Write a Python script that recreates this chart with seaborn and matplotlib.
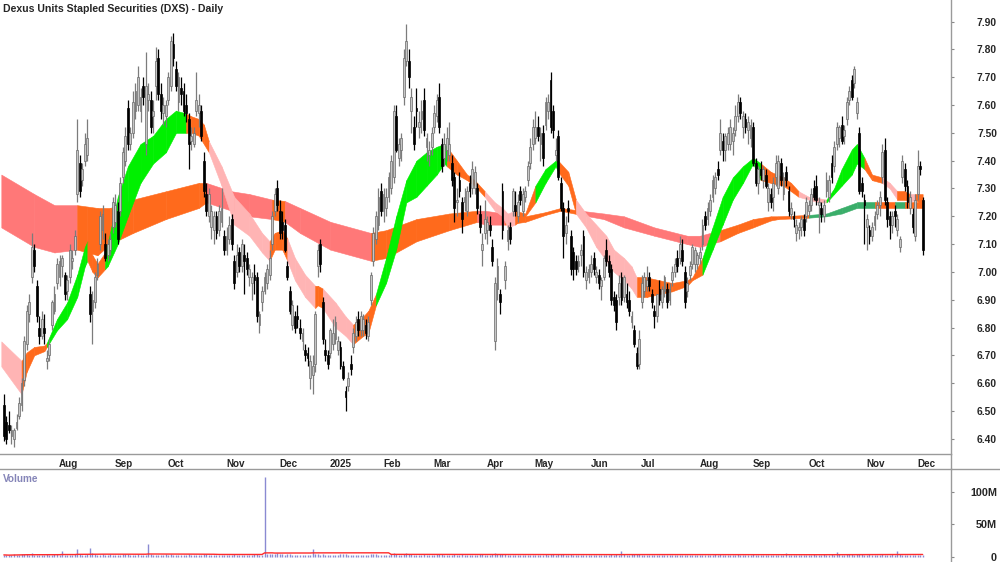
import numpy as np
import pandas as pd
import matplotlib
matplotlib.use("Agg")
import matplotlib.pyplot as plt
import matplotlib.transforms as mtransforms
from matplotlib.lines import Line2D
import seaborn as sns

sns.set_style("white")
plt.rcParams['font.family'] = ['Liberation Sans', 'DejaVu Sans']

title = "Dexus Units Stapled Securities (DXS) - Daily"
start_date = "2024-07-03"
end_date = "2025-12-04"
holidays = ['2024-12-25', '2024-12-26', '2025-01-01', '2025-01-27',
            '2025-04-18', '2025-04-21', '2025-04-25', '2025-06-09']

opens = [
    6.52,6.46,6.45,6.41,6.40,6.44,6.48,6.52,6.61,6.74,
    6.85,6.98,7.08,6.95,6.80,6.77,6.80,6.68,6.70,6.81,
    6.86,6.96,6.98,7.02,6.99,6.93,6.98,7.04,7.08,7.28,
    7.39,7.33,7.40,7.42,6.92,6.86,6.89,6.99,7.10,7.15,
    7.10,7.06,7.08,7.16,7.18,7.22,7.22,7.34,7.40,7.59,
    7.46,7.50,7.58,7.60,7.58,7.67,7.46,7.62,7.62,7.56,
    7.67,7.77,7.64,7.57,7.56,7.62,7.67,7.82,7.73,7.61,
    7.66,7.65,7.60,7.55,7.47,7.46,7.58,7.57,7.58,7.40,
    7.28,7.20,7.16,7.15,7.20,7.15,7.18,7.13,7.08,7.12,
    7.19,7.04,7.00,7.07,7.02,7.06,7.05,6.98,6.96,6.99,
    6.98,6.81,6.89,6.93,6.96,6.99,7.10,7.22,7.30,7.22,
    7.18,7.17,7.02,6.93,6.81,6.84,6.84,6.80,6.75,6.72,
    6.71,6.62,6.63,6.67,7.02,7.10,6.89,6.72,6.70,6.71,
    6.74,6.76,6.72,6.73,6.66,6.57,6.59,6.67,6.73,6.77,
    6.83,6.79,6.79,6.81,6.77,6.90,7.04,7.12,7.17,7.29,
    7.22,7.23,7.27,7.30,7.34,7.56,7.41,7.44,7.63,7.76,
    7.76,7.58,7.52,7.59,7.52,7.55,7.62,7.45,7.42,7.45,
    7.52,7.56,7.63,7.46,7.41,7.44,7.42,7.39,7.34,7.25,
    7.33,7.25,7.25,7.22,7.32,7.30,7.30,7.30,7.21,7.08,
    7.14,7.15,7.17,7.09,6.75,6.94,6.92,7.29,6.97,7.11,
    7.16,7.22,7.24,7.20,7.29,7.22,7.27,7.33,7.39,7.46,
    7.48,7.52,7.46,7.50,7.53,7.58,7.69,7.58,7.42,7.49,
    7.32,7.23,7.14,7.23,7.13,7.07,7.04,7.02,7.06,7.13,
    6.97,6.98,7.00,7.05,6.98,6.99,6.95,6.98,7.08,7.04,
    7.01,6.91,6.90,6.91,6.98,6.91,6.92,6.90,6.82,6.79,
    6.71,6.67,6.89,6.93,6.95,6.98,6.92,6.86,6.84,6.94,
    6.89,6.93,6.94,6.90,6.97,7.00,7.05,7.05,7.08,7.00,
    6.93,6.99,7.03,7.03,7.03,7.05,7.10,7.20,7.19,7.22,
    7.27,7.30,7.37,7.44,7.47,7.44,7.46,7.46,7.47,7.51,
    7.56,7.61,7.52,7.55,7.51,7.48,7.52,7.39,7.32,7.37,
    7.33,7.35,7.25,7.28,7.27,7.34,7.30,7.39,7.28,7.36,
    7.29,7.21,7.20,7.14,7.15,7.16,7.19,7.20,7.22,7.24,
    7.30,7.31,7.24,7.23,7.20,7.29,7.27,7.39,7.38,7.46,
    7.48,7.53,7.49,7.55,7.62,7.69,7.68,7.57,7.50,7.32,
    7.26,7.16,7.15,7.13,7.17,7.21,7.24,7.34,7.44,7.25,
    7.20,7.17,7.22,7.15,7.09,7.34,7.37,7.31,7.23,7.21,
    7.13,7.28,7.38,7.26]

highs = [
    6.56,6.48,6.50,6.45,6.44,6.49,6.55,6.62,6.77,6.88,
    6.92,7.14,7.10,6.97,6.84,6.86,6.85,6.72,6.76,6.90,
    6.95,7.05,7.06,7.06,7.00,6.99,7.10,7.08,7.15,7.55,
    7.42,7.39,7.50,7.55,6.95,6.93,7.00,7.05,7.22,7.24,
    7.14,7.12,7.14,7.27,7.28,7.25,7.34,7.45,7.52,7.62,
    7.52,7.65,7.68,7.74,7.66,7.70,7.79,7.68,7.65,7.62,
    7.81,7.80,7.68,7.63,7.62,7.72,7.85,7.86,7.76,7.72,
    7.70,7.68,7.64,7.57,7.52,7.52,7.72,7.64,7.60,7.43,
    7.32,7.30,7.24,7.22,7.22,7.24,7.30,7.15,7.16,7.20,
    7.21,7.06,7.10,7.09,7.12,7.10,7.07,7.03,7.00,7.03,
    7.00,6.86,6.95,7.00,7.03,7.08,7.22,7.30,7.33,7.26,
    7.22,7.19,7.04,6.95,6.90,6.86,6.88,6.83,6.80,6.74,
    6.73,6.70,6.70,6.86,7.10,7.12,6.91,6.76,6.72,6.80,
    6.83,6.84,6.77,6.75,6.68,6.59,6.64,6.70,6.80,6.84,
    6.86,6.86,6.85,6.83,6.84,7.00,7.16,7.22,7.30,7.32,
    7.30,7.30,7.36,7.42,7.60,7.60,7.48,7.50,7.80,7.89,
    7.80,7.66,7.56,7.66,7.58,7.62,7.66,7.50,7.47,7.52,
    7.60,7.64,7.68,7.48,7.50,7.52,7.54,7.42,7.36,7.30,
    7.36,7.27,7.30,7.31,7.35,7.40,7.38,7.32,7.24,7.14,
    7.26,7.20,7.20,7.12,6.98,7.05,6.94,7.32,7.04,7.17,
    7.18,7.30,7.29,7.28,7.31,7.30,7.31,7.40,7.48,7.55,
    7.58,7.56,7.52,7.53,7.63,7.64,7.72,7.60,7.48,7.51,
    7.34,7.25,7.20,7.26,7.15,7.09,7.06,7.06,7.10,7.15,
    7.02,7.03,7.06,7.07,7.02,7.01,6.98,7.06,7.12,7.06,
    7.03,6.93,6.92,6.99,7.00,6.99,6.96,6.93,6.86,6.81,
    6.73,6.79,6.99,7.00,7.02,7.00,6.94,6.88,6.92,6.97,
    6.95,6.99,6.96,6.96,7.02,7.05,7.08,7.13,7.12,7.02,
    6.98,7.04,7.10,7.09,7.07,7.09,7.19,7.22,7.25,7.28,
    7.35,7.36,7.40,7.55,7.50,7.50,7.52,7.55,7.52,7.60,
    7.64,7.63,7.58,7.57,7.56,7.55,7.54,7.41,7.38,7.40,
    7.38,7.37,7.32,7.30,7.34,7.42,7.42,7.41,7.36,7.38,
    7.31,7.25,7.22,7.19,7.18,7.20,7.21,7.27,7.26,7.30,
    7.33,7.35,7.27,7.25,7.26,7.36,7.35,7.42,7.47,7.54,
    7.53,7.56,7.53,7.63,7.67,7.71,7.74,7.63,7.52,7.34,
    7.28,7.21,7.17,7.18,7.22,7.26,7.29,7.46,7.48,7.27,
    7.22,7.22,7.24,7.21,7.13,7.42,7.39,7.33,7.29,7.23,
    7.28,7.44,7.40,7.27]

lows = [
    6.39,6.38,6.42,6.38,6.37,6.43,6.47,6.50,6.59,6.72,
    6.82,6.96,7.00,6.82,6.74,6.76,6.74,6.65,6.68,6.79,
    6.85,6.94,6.95,6.98,6.90,6.90,6.96,7.01,7.06,7.25,
    7.27,7.31,7.38,7.40,6.82,6.74,6.87,6.97,7.08,7.12,
    7.04,7.04,7.06,7.14,7.16,7.10,7.20,7.32,7.38,7.44,
    7.44,7.48,7.55,7.58,7.54,7.60,7.42,7.58,7.50,7.50,
    7.62,7.62,7.55,7.53,7.52,7.60,7.65,7.74,7.65,7.58,
    7.60,7.56,7.54,7.37,7.44,7.45,7.56,7.52,7.47,7.27,
    7.20,7.18,7.12,7.10,7.12,7.13,7.16,7.06,7.06,7.10,
    7.08,6.94,6.98,7.00,7.00,6.92,6.99,6.95,6.90,6.92,
    6.82,6.78,6.86,6.92,6.94,6.97,7.08,7.20,7.22,7.12,
    7.12,7.07,6.97,6.85,6.79,6.78,6.80,6.76,6.72,6.68,
    6.66,6.58,6.56,6.64,6.98,7.00,6.74,6.68,6.65,6.69,
    6.72,6.74,6.70,6.65,6.61,6.50,6.57,6.63,6.71,6.75,
    6.77,6.77,6.77,6.76,6.75,6.88,7.02,7.10,7.15,7.20,
    7.18,7.20,7.25,7.28,7.32,7.43,7.38,7.40,7.60,7.74,
    7.66,7.50,7.44,7.52,7.48,7.50,7.49,7.40,7.38,7.42,
    7.50,7.54,7.50,7.36,7.38,7.40,7.40,7.31,7.18,7.20,
    7.27,7.14,7.22,7.20,7.27,7.28,7.28,7.21,7.14,7.02,
    7.12,7.10,7.13,7.02,6.72,6.90,6.85,7.12,6.94,7.08,
    7.10,7.20,7.20,7.18,7.24,7.20,7.25,7.31,7.37,7.44,
    7.46,7.47,7.40,7.38,7.51,7.55,7.50,7.48,7.40,7.33,
    7.22,7.05,7.10,7.18,6.99,6.97,6.99,7.00,7.02,6.98,
    6.94,6.96,6.98,6.99,6.96,6.94,6.90,6.97,7.02,6.98,
    6.88,6.86,6.79,6.88,6.88,6.89,6.87,6.84,6.80,6.73,
    6.65,6.65,6.87,6.91,6.93,6.93,6.87,6.80,6.82,6.88,
    6.87,6.91,6.87,6.88,6.95,6.98,7.00,7.03,7.02,6.87,
    6.91,6.97,7.01,7.00,7.01,7.03,7.08,7.15,7.17,7.20,
    7.25,7.28,7.33,7.42,7.40,7.40,7.44,7.44,7.42,7.49,
    7.54,7.55,7.48,7.50,7.46,7.45,7.38,7.31,7.28,7.33,
    7.30,7.30,7.22,7.23,7.22,7.31,7.28,7.31,7.26,7.31,
    7.20,7.19,7.16,7.11,7.12,7.13,7.13,7.18,7.20,7.22,
    7.26,7.24,7.14,7.18,7.18,7.27,7.25,7.32,7.36,7.44,
    7.45,7.46,7.46,7.53,7.60,7.62,7.66,7.55,7.28,7.27,
    7.10,7.08,7.10,7.11,7.15,7.19,7.20,7.32,7.24,7.16,
    7.12,7.14,7.16,7.13,7.07,7.32,7.29,7.23,7.21,7.14,
    7.11,7.26,7.35,7.06]

closes = [
    6.41,6.40,6.43,6.43,6.43,6.46,6.53,6.60,6.75,6.86,
    6.89,7.09,7.02,6.84,6.77,6.83,6.78,6.69,6.74,6.89,
    6.92,7.03,7.04,7.05,6.92,6.97,7.08,7.05,7.13,7.44,
    7.29,7.37,7.46,7.48,6.85,6.90,6.98,7.03,7.20,7.21,
    7.05,7.10,7.12,7.25,7.24,7.12,7.32,7.43,7.49,7.46,
    7.50,7.61,7.65,7.70,7.63,7.63,7.67,7.64,7.52,7.58,
    7.76,7.64,7.58,7.60,7.60,7.70,7.83,7.77,7.67,7.70,
    7.64,7.58,7.57,7.46,7.49,7.50,7.62,7.60,7.49,7.29,
    7.22,7.28,7.22,7.20,7.14,7.22,7.23,7.08,7.13,7.17,
    7.10,6.96,7.06,7.02,7.10,7.04,7.01,7.01,6.98,6.97,
    6.84,6.85,6.93,6.98,7.01,7.05,7.20,7.28,7.24,7.14,
    7.15,7.08,6.98,6.86,6.88,6.80,6.83,6.78,6.78,6.70,
    6.69,6.68,6.66,6.85,7.08,7.03,6.76,6.70,6.67,6.79,
    6.78,6.82,6.75,6.66,6.62,6.55,6.62,6.65,6.78,6.82,
    6.79,6.84,6.83,6.78,6.82,6.99,7.14,7.20,7.27,7.22,
    7.28,7.27,7.34,7.40,7.58,7.44,7.46,7.48,7.77,7.83,
    7.70,7.63,7.46,7.58,7.54,7.58,7.51,7.48,7.44,7.50,
    7.57,7.62,7.52,7.38,7.46,7.48,7.46,7.33,7.23,7.26,
    7.29,7.19,7.27,7.29,7.29,7.37,7.36,7.23,7.16,7.10,
    7.19,7.18,7.15,7.04,6.96,7.02,6.89,7.15,7.02,7.15,
    7.12,7.29,7.22,7.25,7.26,7.28,7.29,7.38,7.45,7.52,
    7.52,7.49,7.50,7.41,7.61,7.61,7.52,7.51,7.44,7.34,
    7.23,7.13,7.17,7.22,7.01,7.01,7.01,7.04,7.08,7.00,
    7.00,7.01,7.03,7.01,7.00,6.96,6.97,7.05,7.04,7.00,
    6.90,6.88,6.82,6.96,6.90,6.98,6.89,6.86,6.84,6.74,
    6.66,6.76,6.96,6.98,6.97,6.95,6.89,6.84,6.92,6.90,
    6.94,6.98,6.89,6.94,7.00,7.03,7.02,7.10,7.04,6.89,
    6.96,7.02,7.09,7.08,7.06,7.07,7.17,7.17,7.23,7.26,
    7.33,7.34,7.35,7.50,7.44,7.49,7.50,7.52,7.50,7.56,
    7.61,7.57,7.56,7.52,7.54,7.53,7.39,7.32,7.37,7.35,
    7.37,7.31,7.30,7.25,7.32,7.39,7.40,7.33,7.34,7.33,
    7.22,7.23,7.19,7.17,7.16,7.19,7.15,7.25,7.24,7.28,
    7.27,7.26,7.25,7.21,7.24,7.33,7.33,7.34,7.45,7.52,
    7.52,7.47,7.51,7.61,7.65,7.63,7.73,7.61,7.29,7.29,
    7.24,7.19,7.13,7.16,7.20,7.24,7.27,7.43,7.26,7.19,
    7.17,7.20,7.20,7.19,7.12,7.40,7.31,7.25,7.27,7.16,
    7.26,7.38,7.37,7.08]

# daily volume, millions of units
volumes = [
    3.2,2.8,2.6,3.4,3.9,2.9,3.3,4.2,4.6,3.9,3.5,5.4,3.7,3.4,3.0,2.8,3.2,3.9,3.0,3.5,
    4.1,4.5,3.6,9.0,3.8,3.2,3.5,2.9,4.1,13.0,5.3,3.8,3.4,4.3,14.0,6.1,4.4,3.8,3.5,4.0,
    3.2,3.6,4.1,3.1,2.9,3.7,3.4,3.9,4.5,4.1,3.5,3.1,3.6,4.2,3.3,3.0,3.8,19.5,4.6,3.4,
    3.7,3.3,3.0,3.5,3.9,3.0,4.1,3.6,3.2,2.8,3.1,3.4,3.8,4.4,3.5,3.0,3.3,3.6,3.8,5.2,
    4.6,3.8,3.2,2.9,3.5,3.2,2.9,3.8,3.4,3.0,3.5,4.3,3.3,3.1,2.8,3.2,3.7,3.2,3.6,4.0,
    5.0,3.8,3.4,123.0,4.8,5.2,4.4,4.3,6.0,4.6,4.1,3.6,3.9,4.3,3.5,3.2,3.8,3.5,3.1,3.4,
    2.9,3.3,13.0,4.7,4.2,3.6,4.5,3.8,3.4,3.2,3.5,3.7,3.2,4.1,4.4,4.9,3.8,3.5,3.2,3.6,
    3.3,3.1,3.5,3.0,3.7,4.4,4.6,4.0,3.5,3.8,3.4,3.2,3.8,4.3,5.5,4.8,3.8,3.6,5.0,5.6,
    4.5,4.0,3.7,3.5,3.2,3.6,3.9,3.4,3.1,3.5,3.8,4.1,4.4,4.0,3.5,3.2,3.6,3.8,4.6,3.5,
    3.4,3.9,3.2,2.9,3.3,3.1,3.5,3.8,4.1,4.4,3.5,3.2,3.6,4.6,5.9,4.9,4.0,5.3,4.1,3.5,
    3.3,3.6,3.1,3.4,2.9,3.2,2.9,3.5,3.8,3.7,3.4,3.2,3.5,3.8,4.0,3.6,4.4,4.1,3.8,4.3,
    4.0,4.5,3.6,3.4,3.9,3.5,3.2,3.0,3.4,3.7,3.2,2.9,3.3,3.1,3.5,3.2,2.9,3.5,3.3,3.8,
    4.0,3.6,4.1,3.5,9.5,4.4,3.8,3.6,4.1,4.3,4.7,4.1,3.7,3.5,3.2,3.5,3.2,3.4,3.0,3.3,
    3.1,3.4,3.6,3.2,2.9,3.3,3.1,3.5,3.2,3.7,3.4,3.0,3.5,3.2,2.9,3.2,3.5,3.3,3.8,3.4,
    3.6,3.9,3.4,4.3,3.8,3.5,3.2,3.6,3.8,3.4,4.1,3.5,3.2,3.5,3.1,3.6,4.1,3.7,3.2,3.4,
    3.0,3.3,3.6,3.2,3.5,3.2,3.6,3.8,3.4,6.0,3.5,3.2,3.5,3.3,3.0,3.4,3.2,3.6,3.8,3.5,
    4.0,3.5,3.2,3.6,3.9,3.4,3.8,4.2,3.6,7.0,4.0,3.5,3.8,4.1,4.4,3.9,3.6,4.3,4.9,4.2,
    3.8,3.5,4.0,3.6,3.4,3.8,3.5,4.1,3.7,3.3,3.6,3.9,3.5,9.0,4.1,3.8,3.5,3.2,3.6,3.4,
    3.8,3.5,3.2,3.7]

# short-term moving-average ribbon: candle index, top, bottom, state
short_idx = [-1, 7, 9, 12, 16, 17, 21, 25, 29, 32, 33, 35, 37, 40, 41, 45, 49, 54, 59, 64,
             68, 72, 74, 77, 79, 81, 86, 91, 97, 102, 105, 107, 110, 112, 115, 119, 123, 124, 126, 131,
             135, 138, 142, 144, 147, 151, 155, 159, 163, 167, 171, 174, 175, 179, 183, 186, 190, 194, 197, 199,
             202, 206, 210, 214, 218, 219, 223, 226, 230, 234, 238, 241, 245, 248, 250, 254, 259, 264, 270, 272,
             276, 280, 284, 288, 292, 296, 299, 303, 308, 311, 314, 318, 322, 325, 328, 331, 335, 337, 340, 343,
             347, 350, 353, 356, 358, 360, 363]
short_top = [6.75, 6.68, 6.71, 6.73, 6.735, 6.745, 6.83, 6.89, 6.99, 7.09, 7.11, 7.06, 7.03, 7.07, 7.10, 7.27, 7.38, 7.46, 7.49, 7.55,
             7.58, 7.57, 7.56, 7.55, 7.53, 7.47, 7.38, 7.27, 7.21, 7.14, 7.11, 7.14, 7.15, 7.12, 7.05, 6.99, 6.95, 6.95, 6.94, 6.89,
             6.84, 6.81, 6.84, 6.86, 6.92, 7.05, 7.20, 7.33, 7.40, 7.43, 7.45, 7.46, 7.45, 7.40, 7.35, 7.33, 7.29, 7.25, 7.23, 7.21,
             7.22, 7.21, 7.31, 7.37, 7.40, 7.40, 7.36, 7.26, 7.21, 7.17, 7.13, 7.08, 7.05, 7.02, 6.98, 6.98, 6.97, 6.96, 6.97, 6.98,
             7.05, 7.16, 7.27, 7.34, 7.38, 7.41, 7.39, 7.36, 7.34, 7.32, 7.29, 7.27, 7.265, 7.26, 7.30, 7.37, 7.44, 7.46, 7.41, 7.35,
             7.34, 7.32, 7.29, 7.29, 7.28, 7.28, 7.28]
short_bot = [6.66, 6.56, 6.64, 6.70, 6.715, 6.73, 6.79, 6.83, 6.91, 7.02, 7.04, 7.00, 6.98, 7.01, 7.02, 7.10, 7.20, 7.32, 7.39, 7.43,
             7.50, 7.50, 7.50, 7.49, 7.46, 7.43, 7.31, 7.17, 7.13, 7.07, 7.04, 7.08, 7.08, 7.04, 6.97, 6.91, 6.87, 6.88, 6.87, 6.80,
             6.77, 6.74, 6.77, 6.78, 6.88, 6.96, 7.08, 7.25, 7.27, 7.31, 7.35, 7.39, 7.38, 7.35, 7.33, 7.31, 7.27, 7.22, 7.20, 7.16,
             7.17, 7.20, 7.25, 7.32, 7.38, 7.36, 7.31, 7.21, 7.16, 7.09, 7.04, 7.00, 6.97, 6.94, 6.91, 6.91, 6.92, 6.93, 6.95, 6.97,
             6.99, 7.08, 7.17, 7.26, 7.32, 7.39, 7.33, 7.32, 7.31, 7.29, 7.27, 7.26, 7.25, 7.25, 7.28, 7.31, 7.35, 7.39, 7.37, 7.33,
             7.32, 7.30, 7.26, 7.26, 7.25, 7.26, 7.24]
short_state = list("poooogggggoooggggggg"
                   "goooopppppooopppoopp"
                   "poooggggggggoooopppp"
                   "oogggoopppppppoooooo"
                   "ggggggoooopppgggggoop"
                   "poopoo")

# long-term moving-average ribbon
long_idx = [-1, 12, 20, 29, 33, 37, 42, 51, 64, 77, 80, 90, 97, 106, 111, 117, 129, 145, 151, 163,
            176, 187, 190, 198, 206, 214, 220, 228, 237, 245, 257, 270, 275, 283, 290, 296, 303, 306, 318, 325,
            331, 337, 344, 349, 352, 356, 360, 363]
long_top = [7.35, 7.28, 7.24, 7.24, 7.235, 7.23, 7.23, 7.26, 7.29, 7.32, 7.32, 7.29, 7.28, 7.26, 7.255, 7.23, 7.18, 7.14, 7.15, 7.19,
            7.21, 7.22, 7.22, 7.21, 7.20, 7.215, 7.23, 7.22, 7.21, 7.20, 7.16, 7.13, 7.13, 7.15, 7.17, 7.19, 7.20, 7.20, 7.205, 7.21,
            7.23, 7.25, 7.25, 7.25, 7.25, 7.25, 7.25, 7.25]
long_bot = [7.16, 7.09, 7.07, 7.08, 7.07, 7.06, 7.10, 7.14, 7.19, 7.23, 7.25, 7.22, 7.20, 7.19, 7.18, 7.14, 7.08, 7.04, 7.05, 7.11,
            7.15, 7.18, 7.17, 7.17, 7.18, 7.205, 7.22, 7.205, 7.19, 7.16, 7.13, 7.10, 7.09, 7.11, 7.14, 7.16, 7.185, 7.19, 7.195, 7.20,
            7.21, 7.23, 7.23, 7.23, 7.23, 7.23, 7.23, 7.23]
long_state = list("rrrooooooorrrorrrooo"
                  "orroooorrrrrrooooott"
                  "ttootoooo")

# ---------------------------------------------------------------
n = len(closes)
idx = np.arange(n)
dates = pd.bdate_range(start_date, end_date, freq='C', holidays=holidays)[:n]
df = pd.DataFrame({'date': dates, 'open': opens, 'high': highs, 'low': lows,
                   'close': closes, 'volume': volumes, 'i': idx})

W, H = 1000, 562
fig = plt.figure(figsize=(W / 100, H / 100), dpi=100)
ax = fig.add_axes([0, (H - 454) / H, 951 / W, 454 / H])
axv = fig.add_axes([0, 0, 951 / W, (H - 469) / H])

xl = (-1.52, 374.2)

colors_short = {'g': '#00f000', 'o': '#ff6a1c', 'p': '#ffb4b4'}
colors_long = {'r': '#ff7878', 'o': '#ff6a1c', 't': '#3aae6a'}


def ribbon(axis, xs, tops, bots, states, cmap, z):
    for k in range(len(xs) - 1):
        c = cmap[states[k]]
        axis.fill_between([xs[k], xs[k + 1]], [bots[k], bots[k + 1]], [tops[k], tops[k + 1]],
                          facecolor=c, edgecolor=c, lw=0.4, zorder=z)


ribbon(ax, long_idx, long_top, long_bot, long_state, colors_long, 1)
ribbon(ax, short_idx, short_top, short_bot, short_state, colors_short, 2)

o = df['open'].values
c = df['close'].values
up = c >= o
body_lo = np.minimum(o, c)
body_h = np.maximum(np.abs(c - o), 0.005)
ax.vlines(idx, df['low'], df['high'], colors=np.where(up, '#7c7c7c', '#000000'), lw=0.9, zorder=3)
ax.bar(idx, body_h, bottom=body_lo, width=0.72,
       color=np.where(up, '#c6c6c6', '#000000'),
       edgecolor=np.where(up, '#6a6a6a', '#000000'), lw=0.5, zorder=4)

ax.set_xlim(*xl)
ax.set_ylim(6.345, 7.978)

# volume
axv.vlines(idx, 0, df['volume'], colors='#8a8ad2', lw=1.0, zorder=2)
vol_ma = df['volume'].rolling(50, min_periods=1).mean()
sns.lineplot(x=idx, y=vol_ma.values, ax=axv, color='#ff2a2a', lw=1.0, zorder=3)
axv.set_xlim(*xl)
axv.set_ylim(-7.66, 134.8)

# spines
spine_c = '#9a9a9a'
for a in (ax, axv):
    for s in a.spines.values():
        s.set_color(spine_c)
        s.set_linewidth(1.0)
ax.spines['top'].set_visible(False)
ax.spines['left'].set_visible(False)
axv.spines['bottom'].set_visible(False)
axv.spines['left'].set_visible(False)

fig.add_artist(Line2D([951 / W, 1.0], [(H - 469) / H] * 2, color=spine_c, lw=1.0))
fig.add_artist(Line2D([951 / W] * 2, [(H - 469) / H, (H - 454) / H], color=spine_c, lw=1.0))

# price ticks
yt = np.round(np.arange(6.4, 7.91, 0.1), 2)
ax.yaxis.tick_right()
ax.set_yticks(yt)
ax.set_yticklabels([f"{v:.2f}" for v in yt])
ax.tick_params(axis='y', direction='out', length=2.2, width=0.8, color='#888888',
               pad=30.9, labelsize=7.4, labelright=True, labelleft=False)
for t in ax.yaxis.get_major_ticks():
    t.label2.set_horizontalalignment('right')
    t.label2.set_fontweight('bold')

# month ticks
per = df['date'].dt.to_period('M')
starts = df.index[(per != per.shift()).values][1:]
names = ['2025' if df['date'][s].month == 1 else df['date'][s].strftime('%b') for s in starts]
ax.set_xticks(starts)
ax.set_xticklabels(names)
ax.tick_params(axis='x', direction='out', length=2.2, width=0.8, color='#888888',
               pad=1.4, labelsize=7.1)
off = mtransforms.ScaledTranslation(2 / 100, 0, fig.dpi_scale_trans)
for lbl in ax.get_xticklabels():
    lbl.set_horizontalalignment('left')
    lbl.set_fontweight('bold')
    lbl.set_transform(lbl.get_transform() + off)

# volume ticks
axv.yaxis.tick_right()
axv.set_yticks([0, 50, 100])
axv.set_yticklabels(['0', '50M', '100M'])
axv.set_xticks([])
axv.tick_params(axis='y', direction='out', length=2.2, width=0.8, color='#888888',
                pad=30.9, labelsize=7.8, labelright=True, labelleft=False)
for t in axv.yaxis.get_major_ticks():
    t.label2.set_horizontalalignment('right')
    t.label2.set_fontweight('bold')
axv.set_xlabel('')
axv.set_ylabel('')

fig.text(3 / W, 1 - 8.5 / H, title, fontsize=7.6, fontweight='bold', ha='left', va='center')
fig.text(3 / W, 1 - 478.5 / H, 'Volume', fontsize=7.2, fontweight='bold', color='#8585b8',
         ha='left', va='center')

fig.savefig('out.png', dpi=100)
